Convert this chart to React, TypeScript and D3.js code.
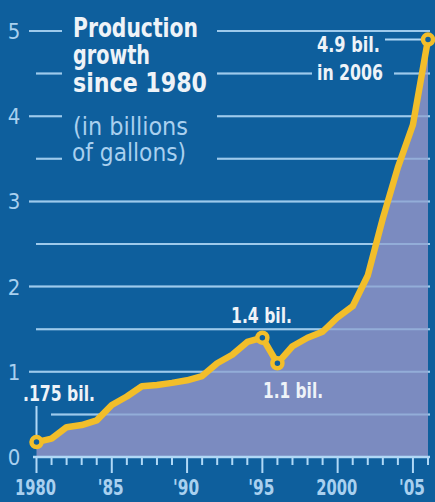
import React from "react";
import * as d3 from "d3";

const years = [1980,1981,1982,1983,1984,1985,1986,1987,1988,1989,1990,1991,1992,1993,1994,1995,1996,1997,1998,1999,2000,2001,2002,2003,2004,2005,2006];
const production = [0.175,0.215,0.35,0.375,0.43,0.61,0.71,0.83,0.845,0.87,0.9,0.95,1.1,1.2,1.35,1.4,1.1,1.3,1.4,1.47,1.64,1.77,2.13,2.8,3.4,3.9,4.9];
const yTickValues = [0, 1, 2, 3, 4, 5];
const gridValues = [0.5, 1, 1.5, 2, 2.5, 3, 3.5, 4, 4.5, 5];
const xLabelYears = [1980, 1985, 1990, 1995, 2000, 2005];
const xLabelTexts = ["1980", "'85", "'90", "'95", "2000", "'05"];
const markedYears = [1980, 1995, 1996, 2006];

const W = 435, H = 502;
const BG = "#0e5f9d";
const AREA = "#7b8bc0";
const LINE = "#f2be2a";
const GRID = "#b0d8f6";
const LABEL = "#a9d0ef";
const WHITE = "#eef3f8";
const COND = "'Liberation Sans Narrow', 'DejaVu Sans Condensed', 'Roboto', sans-serif";

export default function App() {
  const x = d3.scaleLinear().domain([1980, 2006]).range([36.5, 428]);
  const y = d3.scaleLinear().domain([0, 5]).range([457, 31]);
  const data = years.map((yr, i) => ({ yr, v: production[i] }));
  const area = d3.area<{ yr: number; v: number }>().x(d => x(d.yr)).y0(y(0)).y1(d => y(d.v));
  const line = d3.line<{ yr: number; v: number }>().x(d => x(d.yr)).y(d => y(d.v));
  const right = 430;

  const val = (yr: number) => production[years.indexOf(yr)];

  return (
    <svg width={W} height={H} style={{ position: "absolute", left: 0, top: 0, display: "block" }}>
      <rect x={0} y={0} width={W} height={H} fill={BG} />
      {gridValues.map(g => (
        <line key={g} x1={Number.isInteger(g) ? 29 : 36} x2={right} y1={y(g)} y2={y(g)}
          stroke={GRID} strokeWidth={2} opacity={0.8} />
      ))}
      <path d={area(data) || ""} fill={AREA} />
      {gridValues.map(g => (
        <line key={"o" + g} x1={Number.isInteger(g) ? 29 : 36} x2={right} y1={y(g)} y2={y(g)}
          stroke={GRID} strokeWidth={2} opacity={0.45} />
      ))}
      <rect x={62} y={6} width={155} height={166} fill={BG} />
      <rect x={312} y={34} width={82} height={52} fill={BG} />
      <rect x={20} y={380} width={31} height={40} fill={BG} />
      <line x1={33} x2={right} y1={y(0)} y2={y(0)} stroke={GRID} strokeWidth={2.5} />
      {years.map(yr => (
        <line key={"t" + yr} x1={x(yr)} x2={x(yr)} y1={y(0)} y2={y(0) + (yr % 5 === 0 ? 16 : 8)}
          stroke={GRID} strokeWidth={2} />
      ))}
      {xLabelYears.map((yr, i) => (
        <text key={"xl" + yr} x={x(yr) - 1} y={495} textAnchor="middle" fill={LABEL}
          fontFamily={COND} fontWeight="bold" fontSize={21}
          textLength={xLabelTexts[i].length === 4 ? 41 : 26} lengthAdjust="spacingAndGlyphs">
          {xLabelTexts[i]}
        </text>
      ))}
      {yTickValues.map(v => (
        <text key={"yl" + v} x={14} y={y(v) + 8} textAnchor="middle" fill={LABEL}
          fontFamily={COND} fontSize={22}>{v}</text>
      ))}
      <line x1={x(1980)} x2={x(1980)} y1={406} y2={y(val(1980)) - 6} stroke={GRID} strokeWidth={2} />
      <line x1={385} x2={x(2006) - 6} y1={y(val(2006))} y2={y(val(2006))} stroke={GRID} strokeWidth={2} />
      <path d={line(data) || ""} fill="none" stroke={LINE} strokeWidth={6.5} strokeLinejoin="round" />
      {markedYears.map(yr => (
        <circle key={"c" + yr} cx={x(yr)} cy={y(val(yr))} r={5} fill={BG} stroke={LINE} strokeWidth={4.5} />
      ))}
      <g fontFamily={COND} fontWeight="bold" fontSize={26} fill={WHITE}>
        <text x={73} y={37} textLength={125} lengthAdjust="spacingAndGlyphs">Production</text>
        <text x={73} y={64} textLength={77} lengthAdjust="spacingAndGlyphs">growth</text>
        <text x={73} y={92} textLength={134} lengthAdjust="spacingAndGlyphs">since 1980</text>
      </g>
      <g fontFamily={COND} fontSize={24} fill={LABEL}>
        <text x={73} y={135} textLength={115} lengthAdjust="spacingAndGlyphs">(in billions</text>
        <text x={72} y={161} textLength={114} lengthAdjust="spacingAndGlyphs">of gallons)</text>
      </g>
      <g fontFamily={COND} fontWeight="bold" fontSize={22} fill={WHITE}>
        <text x={317} y={52} textLength={63} lengthAdjust="spacingAndGlyphs">4.9 bil.</text>
        <text x={317} y={80} textLength={66} lengthAdjust="spacingAndGlyphs">in 2006</text>
        <text x={23} y={401} textLength={72} lengthAdjust="spacingAndGlyphs">.175 bil.</text>
        <text x={231} y={323} textLength={61} lengthAdjust="spacingAndGlyphs">1.4 bil.</text>
        <text x={263} y={398} textLength={60} lengthAdjust="spacingAndGlyphs">1.1 bil.</text>
      </g>
    </svg>
  );
}
